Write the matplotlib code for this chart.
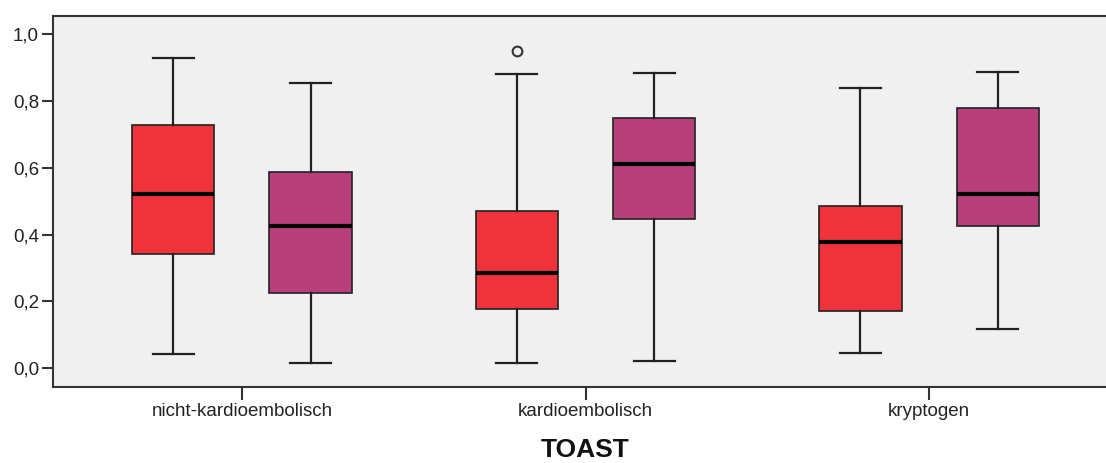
import matplotlib.pyplot as plt

plt.rcParams['font.family'] = ['Liberation Sans', 'DejaVu Sans']

# ---------------------------------------------------------
# data
# ---------------------------------------------------------
categories = ["nicht-kardioembolisch", "kardioembolisch", "kryptogen"]

# series 1 (red)
red_whislo = [0.044, 0.017, 0.047]
red_q1 = [0.343, 0.177, 0.172]
red_med = [0.521, 0.284, 0.378]
red_q3 = [0.728, 0.470, 0.484]
red_whishi = [0.927, 0.880, 0.838]
red_fliers = [[], [0.950], []]

# series 2 (purple)
pur_whislo = [0.017, 0.023, 0.117]
pur_q1 = [0.224, 0.446, 0.426]
pur_med = [0.426, 0.612, 0.522]
pur_q3 = [0.588, 0.748, 0.779]
pur_whishi = [0.853, 0.882, 0.886]
pur_fliers = [[], [], []]

yticks = [0.0, 0.2, 0.4, 0.6, 0.8, 1.0]
ytick_labels = ["0,0", "0,2", "0,4", "0,6", "0,8", "1,0"]


def make_stats(lo, q1, med, q3, hi, fl):
    return [dict(whislo=a, q1=b, med=c, q3=d, whishi=e, fliers=f)
            for a, b, c, d, e, f in zip(lo, q1, med, q3, hi, fl)]


# ---------------------------------------------------------
# plot
# ---------------------------------------------------------
fig = plt.figure(figsize=(11.06, 4.63), dpi=100)
ax = fig.add_axes([0.0479, 0.165, 0.963, 0.8006])
ax.set_facecolor("#f0f0f0")

offset = 0.2
width = 0.24
series = [
    (make_stats(red_whislo, red_q1, red_med, red_q3, red_whishi, red_fliers), -offset, "#ef333a"),
    (make_stats(pur_whislo, pur_q1, pur_med, pur_q3, pur_whishi, pur_fliers), offset, "#b93e7c"),
]

for stats, off, color in series:
    pos = [i + off for i in range(len(categories))]
    ax.bxp(
        stats,
        positions=pos,
        widths=width,
        capwidths=width / 2,
        patch_artist=True,
        showfliers=True,
        boxprops=dict(facecolor=color, edgecolor="#222222", linewidth=1.2),
        medianprops=dict(color="black", linewidth=3),
        whiskerprops=dict(color="#222222", linewidth=1.6),
        capprops=dict(color="#222222", linewidth=1.6),
        flierprops=dict(marker="o", markerfacecolor="none",
                        markeredgecolor="#333333", markersize=7,
                        markeredgewidth=1.5),
        zorder=3,
    )

ax.set_xlim(-0.55, 2.55)
ax.set_ylim(-0.055, 1.054)

ax.set_xticks(range(len(categories)))
ax.set_xticklabels(categories)
ax.set_yticks(yticks)
ax.set_yticklabels(ytick_labels)

ax.tick_params(axis="y", direction="out", length=8, width=1.5,
               color="#333333", labelsize=13.5, labelcolor="#222222", pad=2)
ax.tick_params(axis="x", direction="out", length=9.5, width=1.5,
               color="#333333", labelsize=13.5, labelcolor="#222222", pad=2)

for side in ["left", "bottom", "top"]:
    ax.spines[side].set_color("#333333")
    ax.spines[side].set_linewidth(1.5)
ax.spines["right"].set_visible(False)

ax.set_xlabel("TOAST", fontsize=19, fontweight="bold", color="#111111",
              labelpad=13)

plt.savefig("out.png", dpi=100)
plt.close()
